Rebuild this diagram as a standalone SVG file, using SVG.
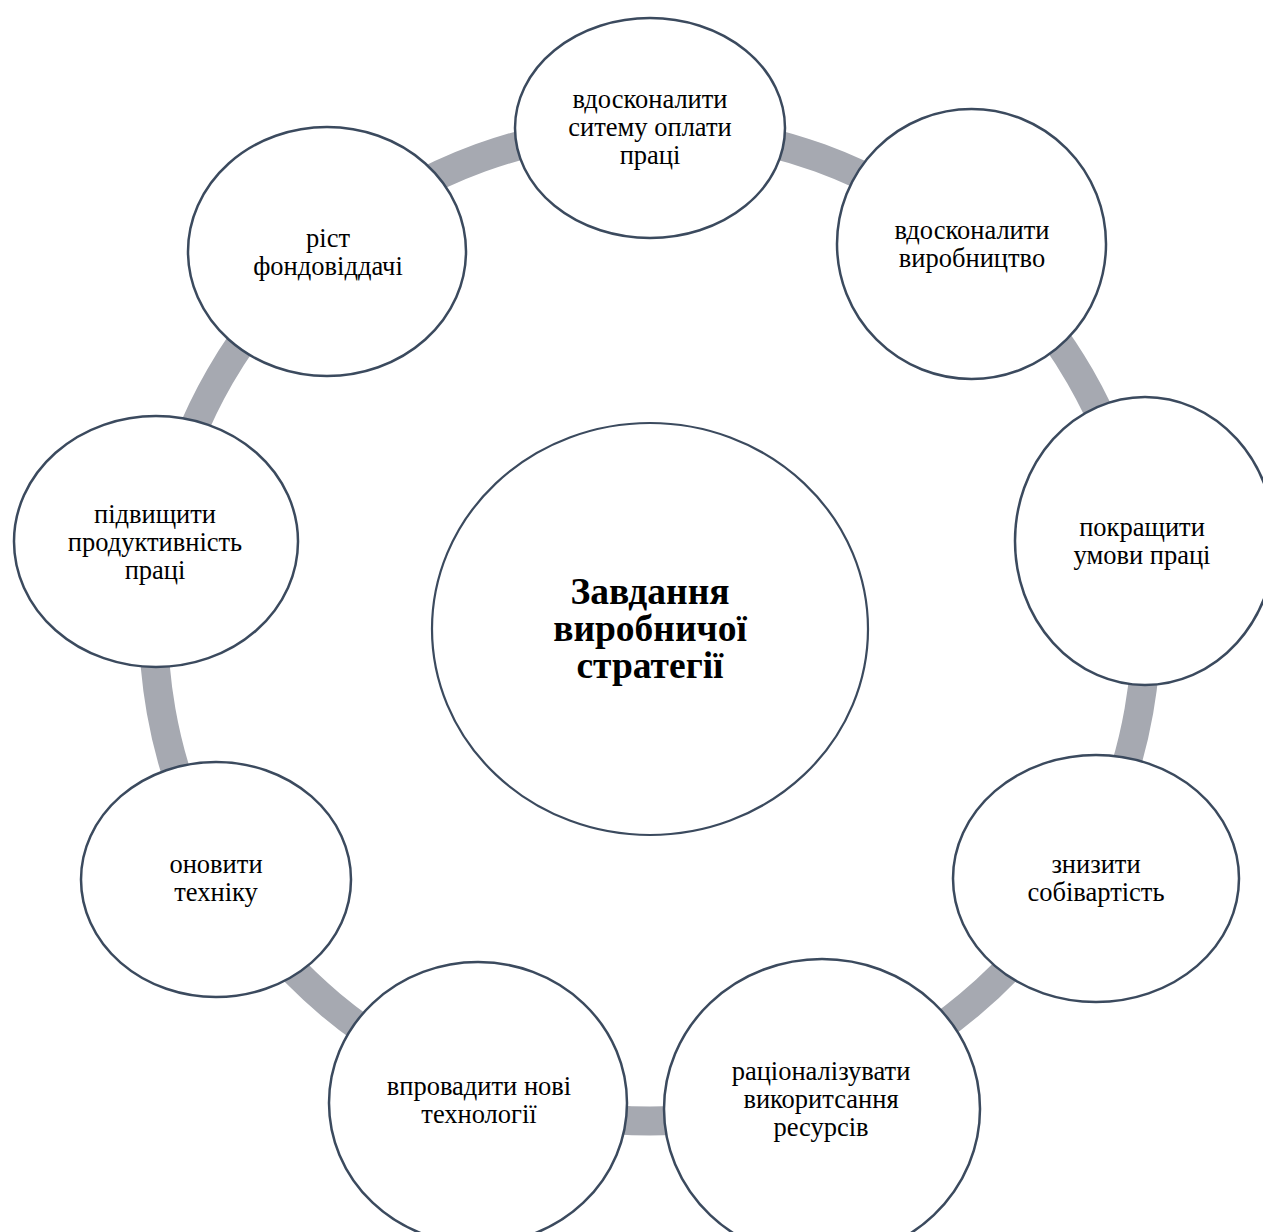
<svg xmlns="http://www.w3.org/2000/svg" width="1263" height="1232" viewBox="0 0 1263 1232">
  <style>
    .ring { fill: none; stroke: #a6a9b1; stroke-width: 29; stroke-linecap: butt; }
    .node { fill: #ffffff; stroke: #3b4a5e; stroke-width: 2.5; }
    .hub { fill: #ffffff; stroke: #3b4a5e; stroke-width: 2.2; }
    .lbl { font-family: "Liberation Serif", "Times New Roman", serif; font-size: 26.5px; fill: #000000; text-anchor: middle; }
    .title { font-family: "Liberation Serif", "Times New Roman", serif; font-size: 37.5px; font-weight: bold; fill: #000000; text-anchor: middle; }
  </style>
  <rect width="1263" height="1232" fill="#ffffff"/>

  <!-- circular band linking the outer nodes (centre 650,624.5, r 496.5) -->
  <g id="connectors">
    <path class="ring" d="M 650 128 A 496.5 496.5 0 0 1 969.1 244.2"/>
    <path class="ring" d="M 969.1 244.2 A 496.5 496.5 0 0 1 1138.9 538.3"/>
    <path class="ring" d="M 1138.9 538.3 A 496.5 496.5 0 0 1 1080 872.75"/>
    <path class="ring" d="M 1080 872.75 A 496.5 496.5 0 0 1 819.8 1091.1"/>
    <path class="ring" d="M 819.8 1091.1 A 496.5 496.5 0 0 1 480.2 1091.1"/>
    <path class="ring" d="M 480.2 1091.1 A 496.5 496.5 0 0 1 220 872.75"/>
    <path class="ring" d="M 220 872.75 A 496.5 496.5 0 0 1 161.1 538.3"/>
    <path class="ring" d="M 161.1 538.3 A 496.5 496.5 0 0 1 330.9 244.2"/>
    <path class="ring" d="M 330.9 244.2 A 496.5 496.5 0 0 1 650 128"/>
  </g>

  <g id="hub">
    <ellipse class="hub" cx="650" cy="629" rx="218" ry="206"/>
    <text class="title" x="650" y="604">Завдання</text>
    <text class="title" x="650" y="641">виробничої</text>
    <text class="title" x="650" y="678">стратегії</text>
  </g>

  <g id="node-pay">
    <ellipse class="node" cx="650" cy="128" rx="135" ry="110"/>
    <text class="lbl" x="650" y="108">вдосконалити</text>
    <text class="lbl" x="650" y="136">ситему оплати</text>
    <text class="lbl" x="650" y="164">праці</text>
  </g>

  <g id="node-production">
    <ellipse class="node" cx="971.5" cy="244" rx="134.5" ry="135"/>
    <text class="lbl" x="972" y="239">вдосконалити</text>
    <text class="lbl" x="972" y="267">виробництво</text>
  </g>

  <g id="node-conditions">
    <ellipse class="node" cx="1145" cy="541" rx="130" ry="144"/>
    <text class="lbl" x="1142" y="536">покращити</text>
    <text class="lbl" x="1142" y="564">умови праці</text>
  </g>

  <g id="node-cost">
    <ellipse class="node" cx="1096" cy="878.5" rx="143" ry="123.5"/>
    <text class="lbl" x="1096" y="873">знизити</text>
    <text class="lbl" x="1096" y="901">собівартість</text>
  </g>

  <g id="node-resources">
    <ellipse class="node" cx="822" cy="1109" rx="158" ry="150"/>
    <text class="lbl" x="821" y="1080">раціоналізувати</text>
    <text class="lbl" x="821" y="1108">викоритсання</text>
    <text class="lbl" x="821" y="1136">ресурсів</text>
  </g>

  <g id="node-technology">
    <ellipse class="node" cx="478" cy="1103" rx="149" ry="141"/>
    <text class="lbl" x="479" y="1095">впровадити нові</text>
    <text class="lbl" x="479" y="1123">технології</text>
  </g>

  <g id="node-equipment">
    <ellipse class="node" cx="216" cy="879.5" rx="135" ry="117.5"/>
    <text class="lbl" x="216" y="873">оновити</text>
    <text class="lbl" x="216" y="901">техніку</text>
  </g>

  <g id="node-productivity">
    <ellipse class="node" cx="156" cy="541.5" rx="142" ry="125.5"/>
    <text class="lbl" x="155" y="523">підвищити</text>
    <text class="lbl" x="155" y="551">продуктивність</text>
    <text class="lbl" x="155" y="579">праці</text>
  </g>

  <g id="node-assets">
    <ellipse class="node" cx="327" cy="251.5" rx="139" ry="124.5"/>
    <text class="lbl" x="328" y="247">ріст</text>
    <text class="lbl" x="328" y="275">фондовіддачі</text>
  </g>
</svg>
